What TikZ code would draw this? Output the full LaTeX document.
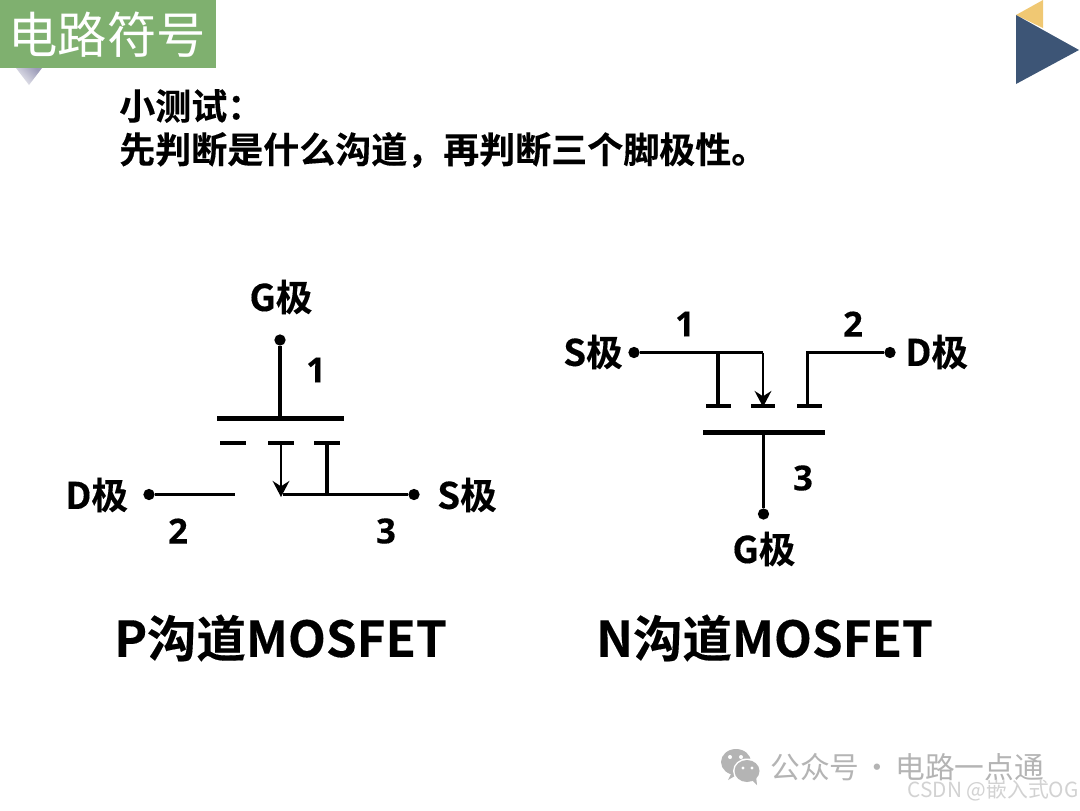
\documentclass[tikz,border=0pt]{standalone}
\usepackage{fontspec}
\setmainfont{Noto Sans CJK SC}[BoldFont={Noto Sans CJK SC Bold},BoldFeatures={FakeBold=0.25}]
\newfontfamily\latinf{Open Sans}[BoldFont={Open Sans Bold},BoldFeatures={FakeBold=0.2}]
\usetikzlibrary{arrows.meta}
\definecolor{hdrgreen}{HTML}{7FB06F}
\definecolor{navy}{HTML}{3D5576}
\definecolor{gold}{HTML}{F0C873}
\definecolor{wm}{HTML}{B4B4B4}
\definecolor{wmb}{HTML}{D2D2D2}
\definecolor{tria}{HTML}{EDEDF2}
\definecolor{trib}{HTML}{9C9CB8}
\tikzset{
  wire/.style={line width=2.5pt,black},
  bar/.style={line width=3.5pt,black},
  stub/.style={line width=2.6pt,black},
  arrowline/.style={line width=2.2pt,black,-{Stealth[length=12pt,width=12.5pt,inset=4pt]}},
  dot/.style={circle,fill=black,inner sep=0pt,minimum size=8.5pt},
  lab/.style={font=\bfseries\fontsize{27.5}{27.5}\selectfont,inner sep=0pt},
  num/.style={font=\latinf\bfseries\fontsize{26}{26}\selectfont,inner sep=0pt},
  captext/.style={font=\bfseries\fontsize{37}{37}\selectfont,inner sep=0pt},
  qtext/.style={font=\bfseries\fontsize{27}{27}\selectfont,anchor=west,inner sep=0pt},
}
\begin{document}
\begin{tikzpicture}[x=0.75pt,y=-0.75pt]
\useasboundingbox (0,0) rectangle (1080,810);
\fill[white] (0,0) rectangle (1080,810);
% header
\shade[left color=tria,right color=trib,shading angle=135] (16,68) -- (42,68) -- (29,85) -- cycle;
\fill[hdrgreen] (0,0) rectangle (216,68);
\node[font=\fontsize{37}{37}\selectfont,text=white,inner sep=0pt] (title) at (107,35) {电路符号};
\fill[gold] (1016,15) -- (1043,0) -- (1043,28) -- cycle;
\fill[navy] (1016,15) -- (1079,50) -- (1016,84) -- cycle;
% question
\node[qtext] (q1) at (119,106) {小测试：};
\node[qtext] (q2) at (119,150) {先判断是什么沟道，再判断三个脚极性。};
% P channel
\node[dot] (pg) at (280,340) {};
\coordinate (pgb) at (280,418.5);
\coordinate (pbl) at (217,418.5);
\coordinate (pbr) at (344,418.5);
\draw[wire] (pg) -- (pgb);
\draw[bar] (pbl) -- (pbr);
\coordinate (ps1l) at (220,443); \coordinate (ps1r) at (246,443);
\coordinate (ps2l) at (268,443); \coordinate (ps2r) at (294,443);
\coordinate (ps3l) at (314,443); \coordinate (ps3r) at (340,443);
\draw[stub] (ps1l) -- (ps1r);
\draw[stub] (ps2l) -- (ps2r);
\draw[stub] (ps3l) -- (ps3r);
\node[dot] (pd) at (149,494.5) {};
\node[dot] (ps) at (414,494.5) {};
\coordinate (pde) at (235,494.5);
\coordinate (pse) at (283,494.5);
\coordinate (pst) at (327,443);
\coordinate (psb) at (327,494.5);
\coordinate (pat) at (281,443);
\coordinate (pab) at (281,497);
\draw[wire] (pd) -- (pde);
\draw[wire] (pse) -- (ps);
\draw[wire] (pst) -- (psb);
\draw[arrowline] (pat) -- (pab);
\node[lab] (lpg) at (281,297) {G极};
\node[lab,anchor=west] (lpd) at (65,495) {D极};
\node[lab,anchor=west] (lps) at (437,495) {S极};
\node[num] (n1p) at (316,370) {1};
\node[num] (n2p) at (178,531) {2};
\node[num] (n3p) at (386,531) {3};
% N channel
\node[dot] (ns) at (634,352.5) {};
\node[dot] (nd) at (890,352.5) {};
\coordinate (nsc) at (763,352.5);
\coordinate (nac) at (763,407);
\coordinate (nv1t) at (718,352.5);
\coordinate (nv1b) at (718,406);
\coordinate (ndc) at (807.5,352.5);
\coordinate (ndb) at (807.5,406);
\draw[wire] (ns) -- (nsc);
\draw[arrowline] (nsc) -- (nac);
\draw[wire] (nv1t) -- (nv1b);
\draw[wire,line join=miter] (nd) -- (ndc) -- (ndb);
\coordinate (ns1l) at (706,406); \coordinate (ns1r) at (731,406);
\coordinate (ns2l) at (751,406); \coordinate (ns2r) at (775,406);
\coordinate (ns3l) at (797,406); \coordinate (ns3r) at (822,406);
\draw[stub] (ns1l) -- (ns1r);
\draw[stub] (ns2l) -- (ns2r);
\draw[stub] (ns3l) -- (ns3r);
\coordinate (nbl) at (703,432.5);
\coordinate (nbr) at (825,432.5);
\coordinate (ngt) at (763.5,432.5);
\draw[bar] (nbl) -- (nbr);
\node[dot] (ng) at (763.5,514) {};
\draw[wire] (ngt) -- (ng);
\node[lab,anchor=west] (lns) at (563,352) {S极};
\node[lab,anchor=west] (lnd) at (905,352) {D极};
\node[lab] (lng) at (764,549) {G极};
\node[num] (n1n) at (685,324) {1};
\node[num] (n2n) at (853,324) {2};
\node[num] (n3n) at (803,478) {3};
% captions
\node[captext] (cp) at (280.5,638) {P沟道MOSFET};
\node[captext] (cn) at (764.5,638) {N沟道MOSFET};
% watermark
\fill[wm] (736,762) ellipse (15 and 13);
\fill[wm] (732,772) -- (728,780) -- (740,773) -- cycle;
\fill[white] (747,771) ellipse (14 and 12.5);
\fill[wm] (747,771) ellipse (12.5 and 11);
\fill[wm] (752,780) -- (757,785) -- (756,776) -- cycle;
\fill[white] (730,757) circle (2) (741,757) circle (2) (743,768) circle (1.6) (752,768) circle (1.6);
\node[font=\fontsize{22.3}{22.3}\selectfont,text=wm,anchor=west,inner sep=0pt] (wm1) at (770,767) {公众号\makebox[27pt][c]{·}电路一点通};
\node[font=\fontsize{15.6}{15.6}\selectfont,text=wmb,anchor=east,inner sep=0pt] (wm2) at (1079,791) {CSDN @嵌入式OG};
\end{tikzpicture}
\end{document}
